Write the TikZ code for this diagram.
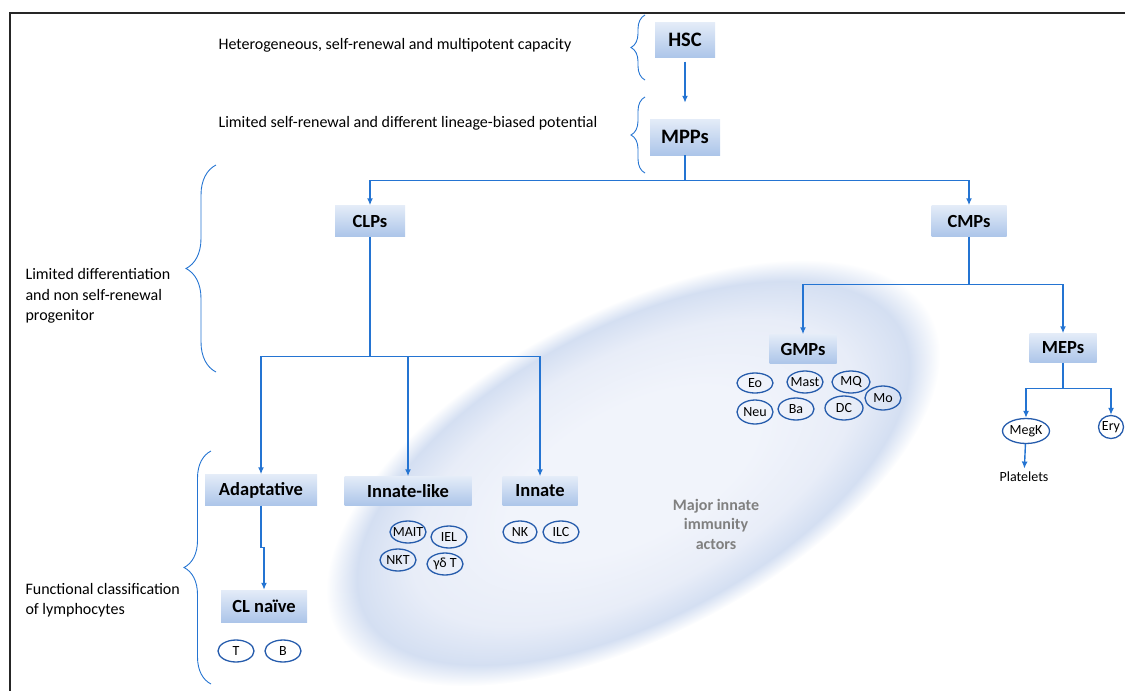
\documentclass[tikz,border=0pt]{standalone}
\usepackage{fontspec}
\setmainfont{Carlito}
\usetikzlibrary{arrows.meta,shapes.geometric,decorations.pathreplacing}
\definecolor{flux}{RGB}{36,116,210}
\definecolor{contour}{RGB}{38,92,172}
\definecolor{boxtop}{RGB}{228,236,248}
\definecolor{boxbot}{RGB}{172,197,233}
\definecolor{halocentre}{RGB}{241,244,251}
\definecolor{halomilieu}{RGB}{232,237,248}
\definecolor{halobord}{RGB}{212,223,242}
\definecolor{gristexte}{RGB}{128,128,128}
\pgfdeclareradialshading{halo}{\pgfpoint{0bp}{0bp}}{color(0bp)=(halocentre); color(10bp)=(halocentre); color(18bp)=(halomilieu); color(22.5bp)=(halobord); color(25bp)=(white); color(50bp)=(white)}

\begin{document}
\begin{tikzpicture}[x=1pt,y=-1pt,>={Latex[length=7pt,width=6pt]},
  fleche/.style={->,draw=flux,line width=1.4pt},
  trait/.style={draw=flux,line width=1.4pt},
  etage/.style={rectangle,top color=boxtop,bottom color=boxbot,minimum width=#1,
    minimum height=31pt,inner xsep=0pt,font=\bfseries\fontsize{18.5}{20}\selectfont},
  cellule/.style={ellipse,draw=contour,line width=1.3pt,inner xsep=-2.5pt,inner ysep=0pt,
    minimum width=36pt,minimum height=22pt,font=\fontsize{14}{15}\selectfont},
  accolade/.style={draw=flux,line width=0.9pt,decorate,decoration={brace,amplitude=#1}},
  legende/.style={anchor=west,align=left,font=\fontsize{16}{20.5}\selectfont}]
\useasboundingbox (0,0) rectangle (1125,691);
% cadre
\draw[line width=2.2pt,black!85] (10,691) -- (10,13) -- (1125,13);

% zone des acteurs de l'immunite innee
\shade[transform canvas={shift={(633,473)},rotate=28},shading=halo] (0,0) ellipse (337 and 162);

% legendes a gauche
\node[legende] (txthsc) at (215,45) {Heterogeneous, self-renewal and multipotent capacity};
\node[legende] (txtmpp) at (215,123) {Limited self-renewal and different lineage-biased potential};
\node[legende] (txtprog) at (22,296) {Limited differentiation\\and non self-renewal\\progenitor};
\node[legende] (txtlympho) at (22,600) {Functional classification\\of lymphocytes};
\node[font=\bfseries\fontsize{16}{19.5}\selectfont,text=gristexte,align=center] (acteurs) at (716,524) {Major innate\\immunity\\actors};

\draw[accolade=14] (645,80) -- (645,15);
\draw[accolade=14] (645,173) -- (645,97);
\draw[accolade=30] (216,372) -- (216,165);
\draw[accolade=27] (211,684) -- (211,451);

% progeniteurs
\node[etage=60,minimum height=35pt,font=\bfseries\fontsize{20.5}{22}\selectfont] (hsc) at (685,40) {HSC};
\node[etage=70,minimum height=36pt,font=\bfseries\fontsize{20.5}{22}\selectfont] (mpp) at (685,137) {MPPs};
\node[etage=70] (clp) at (370,221) {CLPs};
\node[etage=75] (cmp) at (969,221) {CMPs};
\node[etage=67,minimum height=29pt] (gmp) at (803,349) {GMPs};
\node[etage=67,minimum height=29pt] (mep) at (1063,348) {MEPs};
\node[etage=112] (adapt) at (261,490) {Adaptative};
\node[etage=127,minimum height=29pt] (innlike) at (408,491) {Innate-like};
\node[etage=75,minimum height=29pt] (innate) at (540,491) {Innate};
\node[etage=86,minimum height=32pt] (naive) at (264,606) {CL naïve};

% cellules
\node[cellule] (t) at (236,651) {T};
\node[cellule] (b) at (283,651) {B};
\node[cellule] (mait) at (408,532) {MAIT};
\node[cellule] (iel) at (449,537) {IEL};
\node[cellule] (nkt) at (398,560) {NKT};
\node[cellule] (gdt) at (445,564) {γδ T};
\node[cellule,minimum width=34pt] (nk) at (520,532) {NK};
\node[cellule] (ilc) at (561,532) {ILC};
\node[cellule,minimum height=20pt] (eo) at (755,383) {Eo};
\node[cellule] (mast) at (805,382) {Mast};
\node[cellule,minimum width=38pt] (mq) at (851,382) {MQ};
\node[cellule,minimum height=24pt] (mo) at (883,398) {Mo};
\node[cellule,minimum height=24pt] (neu) at (755,412) {Neu};
\node[cellule] (ba) at (796,409) {Ba};
\node[cellule,minimum width=38pt,minimum height=24pt] (dc) at (844,408) {DC};
\node[cellule,minimum width=47pt,minimum height=25pt] (megk) at (1026,431) {MegK};
\node[cellule,minimum width=25pt,minimum height=23pt] (ery) at (1111,427) {Ery};
\node[font=\fontsize{14}{15}\selectfont] (plaq) at (1024,477) {Platelets};

% filiation
\draw[fleche,shorten <=4pt,shorten >=16pt] (hsc) -- (mpp);
\draw[trait] (mpp.south) -- ++(0,25) coordinate (nmpp);
\draw[fleche] (nmpp) -| (clp.north);
\draw[fleche] (nmpp) -| (cmp.north);
\draw[trait] (clp.south) -- ++(0,120) coordinate (nclp);
\draw[fleche] (nclp) -| (adapt.north);
\draw[fleche] (nclp) -| (innlike.north);
\draw[fleche] (nclp) -| (innate.north);
\draw[fleche] (adapt.south) -- ++(0,42) -| (naive.north);
\draw[trait] (cmp.south) -- ++(0,48) coordinate (ncmp);
\draw[fleche] (ncmp) -| (gmp.north);
\draw[fleche] (ncmp) -| (mep.north);
\draw[trait] (mep.south) -- ++(0,26) coordinate (nmep);
\draw[fleche] (nmep) -| (megk.north);
\draw[fleche] (nmep) -| (ery.north);
\draw[fleche] (megk) -- (plaq);
\end{tikzpicture}
\end{document}
